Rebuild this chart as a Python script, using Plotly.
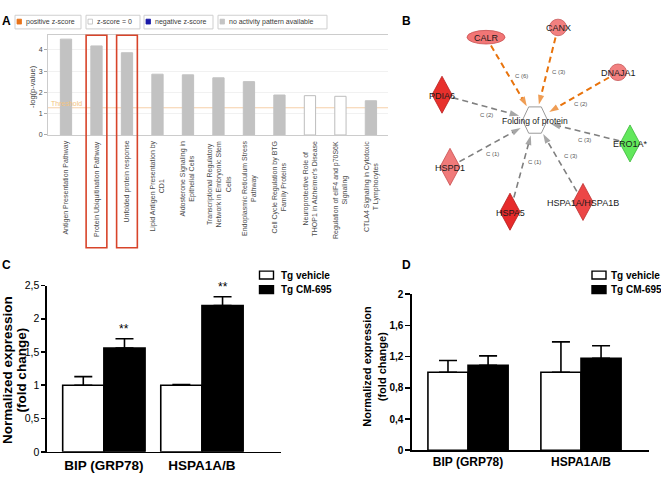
import numpy as np
import plotly.graph_objects as go

W, H = 661, 478
FONT = "Arial, Liberation Sans, sans-serif"

# ---------------- Panel A data ----------------
pathways = [
    "Antigen Presentation Pathway",
    "Protein Ubiquitination Pathway",
    "Unfolded protein response",
    "Lipid Antigen Presentation by<br>CD1",
    "Aldosterone Signaling in<br>Epithelial Cells",
    "Transcriptional Regulatory<br>Network in Embryonic Stem<br>Cells",
    "Endoplasmic Reticulum Stress<br>Pathway",
    "Cell Cycle Regulation by BTG<br>Family Proteins",
    "Neuroprotective Role of<br>THOP1 in Alzheimer's Disease",
    "Regulation of eIF4 and p70S6K<br>Signaling",
    "CTLA4 Signaling in Cytotoxic<br>T Lymphocytes",
]
neg_log_p = [4.51, 4.19, 3.87, 2.86, 2.83, 2.69, 2.51, 1.88, 1.85, 1.82, 1.61]
pattern = ["none"] * 8 + ["zero", "zero"] + ["none"]
threshold = 1.28
highlighted = [1, 2]
a_ticks = [0, 1, 2, 3, 4]
legend_a = ["positive z-score", "z-score = 0", "negative z-score", "no activity pattern available"]
legend_a_colors = ["#e8731a", "#ffffff", "#1a1aa8", "#c4c4c4"]

# ---------------- Panel B data ----------------
hub_name = "Folding of protein"
hub_x, hub_y = 535, 117
nodes = ["CALR", "CANX", "DNAJA1", "PDIA6", "ERO1A*", "HSPD1", "HSPA5", "HSPA1A/HSPA1B"]
node_x = [486, 558, 618, 442, 630, 450, 510, 583]
node_y = [32, 22, 68, 91, 141, 165, 211, 201]
node_shape = ["ellipse", "circle", "circle", "diamond", "diamond", "diamond", "diamond", "diamond"]
node_color = ["#f27676", "#f28080", "#f28080", "#e8302c", "#62e85c", "#f07a7a", "#e62a2a", "#ec4646"]
node_line = ["#c85050", "#c85a5a", "#c85a5a", "#b82020", "#3cb83a", "#c85050", "#b41c1c", "#bc3030"]
edge_label = ["C (6)", "C (3)", "C (2)", "C (2)", "C (3)", "C (1)", "C (1)", "C (3)"]
edge_kind = ["orange", "orange", "orange", "gray", "gray", "gray", "gray", "gray"]
edge_label_x = [521, 558, 580, 486, 584, 492, 534, 570]
edge_label_y = [72, 68, 101, 112, 137, 152, 160, 154]

# ---------------- Panel C / D data ----------------
genes = ["BIP (GRP78)", "HSPA1A/B"]
groups = ["Tg vehicle", "Tg CM-695"]
c_vehicle = [1.0, 1.0]
c_vehicle_err = [0.13, 0.01]
c_cm = [1.56, 2.20]
c_cm_err = [0.14, 0.13]
c_sig = ["**", "**"]
c_ticks = [0, 0.5, 1, 1.5, 2, 2.5]
c_ticktext = ["0", "0,5", "1", "1,5", "2", "2,5"]

d_vehicle = [1.0, 1.0]
d_vehicle_err = [0.15, 0.39]
d_cm = [1.09, 1.18]
d_cm_err = [0.12, 0.16]
d_ticks = [0, 0.4, 0.8, 1.2, 1.6, 2]
d_ticktext = ["0", "0,4", "0,8", "1,2", "1,6", "2"]


def px(x):
    return x / W


def py(y):
    return 1 - y / H


fig = go.Figure()
shapes = []
ann = []

# ================= Panel A =================
bar_fill = ["#c2c2c2" if p == "none" else "#ffffff" for p in pattern]
bar_edge = ["#c2c2c2" if p == "none" else "#bdbdbd" for p in pattern]
fig.add_trace(go.Bar(
    x=list(range(len(pathways))), y=neg_log_p, width=0.37,
    marker=dict(color=bar_fill, line=dict(color=bar_edge, width=1)),
    xaxis="x", yaxis="y", hoverinfo="skip", showlegend=False))

shapes.append(dict(type="line", xref="x domain", yref="y", x0=0, x1=1, y0=threshold, y1=threshold,
                   line=dict(color="#f6cfa8", width=1), layer="below"))
ann.append(dict(text="Threshold", xref="paper", yref="y", x=px(49), y=threshold, xanchor="left",
                yanchor="bottom", showarrow=False, font=dict(family=FONT, size=7, color="#f2c27e"), yshift=-1))
for i in highlighted:
    shapes.append(dict(type="rect", xref="x", yref="paper", x0=i - 0.34, x1=i + 0.34,
                       y0=py(248), y1=py(30), line=dict(color="#d8442a", width=1.6)))
for i, name in enumerate(pathways):
    ann.append(dict(text=name, xref="x", yref="paper", x=i, y=py(136), xanchor="center", yanchor="top",
                    textangle=-90, align="center", showarrow=False,
                    font=dict(family=FONT, size=7, color="#4a4a4a")))
ann.append(dict(text="-log(p-value)", xref="paper", yref="paper", x=px(33), y=py(83), textangle=-90,
                xanchor="center", yanchor="middle",
                showarrow=False, font=dict(family=FONT, size=7.5, color="#444")))

# legend boxes of panel A
box_x0 = [15, 86, 144, 218]
box_x1 = [81, 140, 213, 327]
for k, label in enumerate(legend_a):
    shapes.append(dict(type="rect", xref="paper", yref="paper", x0=px(box_x0[k]), x1=px(box_x1[k]),
                       y0=py(23.5), y1=py(9.5), line=dict(color="#cfcfcf", width=1), fillcolor="white"))
    shapes.append(dict(type="rect", xref="paper", yref="paper", x0=px(box_x0[k] + 2), x1=px(box_x0[k] + 6.5),
                       y0=py(18.5), y1=py(13.5), fillcolor=legend_a_colors[k],
                       line=dict(color="#bbbbbb" if k == 1 else legend_a_colors[k], width=0.8)))
    ann.append(dict(text=label, xref="paper", yref="paper", x=px(box_x0[k] + 8.5), y=py(16.3),
                    xanchor="left", yanchor="middle", showarrow=False,
                    font=dict(family=FONT, size=7, color="#3a3a3a")))

# ================= Panel B =================
hx, hy = float(hub_x), float(hub_y)
for k in range(len(nodes)):
    nx, ny = float(node_x[k]), float(node_y[k])
    dx, dy = hx - nx, hy - ny
    L = np.hypot(dx, dy)
    ux, uy = dx / L, dy / L
    if node_shape[k] == "ellipse":
        rx, ry = 19, 7
    elif node_shape[k] == "circle":
        rx, ry = 8.5, 8.5
    else:
        rx, ry = 10, 19
    if node_shape[k] == "diamond":
        rs = 1 / (abs(ux) / rx + abs(uy) / ry)
    else:
        rs = 1 / np.sqrt((ux / rx) ** 2 + (uy / ry) ** 2)
    rs += 2
    re = 16.5
    col = "#e8730c" if edge_kind[k] == "orange" else "#808080"
    fig.add_trace(go.Scatter(
        x=[nx + ux * rs, hx - ux * re], y=[ny + uy * rs, hy - uy * re],
        mode="lines+markers", xaxis="x2", yaxis="y2",
        line=dict(color=col, width=2 if edge_kind[k] == "orange" else 1.6, dash="6px,4px"),
        marker=dict(symbol=["circle", "arrow"], size=[0, 10], color=col, angleref="previous",
                    line=dict(width=0)),
        hoverinfo="skip", showlegend=False))
    ann.append(dict(text=edge_label[k], xref="x2", yref="y2", x=edge_label_x[k], y=edge_label_y[k],
                    xanchor="center", yanchor="middle",
                    showarrow=False, font=dict(family=FONT, size=6, color="#555")))
    if node_shape[k] == "diamond":
        path = (f"M{nx},{ny - ry} L{nx + rx},{ny} L{nx},{ny + ry} L{nx - rx},{ny} Z")
        shapes.append(dict(type="path", xref="x2", yref="y2", path=path, fillcolor=node_color[k],
                           line=dict(color=node_line[k], width=0.8)))
    else:
        shapes.append(dict(type="circle", xref="x2", yref="y2", x0=nx - rx, x1=nx + rx,
                           y0=ny - ry, y1=ny + ry, fillcolor=node_color[k],
                           line=dict(color=node_line[k], width=0.8)))
    ann.append(dict(text=nodes[k], xref="x2", yref="y2", x=nx, y=ny + 1, showarrow=False,
                    xanchor="center", yanchor="middle",
                    font=dict(family=FONT, size=9, color="#1a1a1a")))

hex_path = (f"M{hx - 12.5},{hy} L{hx - 6.3},{hy - 13.5} L{hx + 6.3},{hy - 13.5} "
            f"L{hx + 12.5},{hy} L{hx + 6.3},{hy + 13.5} L{hx - 6.3},{hy + 13.5} Z")
shapes.append(dict(type="path", xref="x2", yref="y2", path=hex_path, fillcolor="white",
                   line=dict(color="#9a9a9a", width=1)))
ann.append(dict(text=hub_name, xref="x2", yref="y2", x=hx, y=hy + 1, showarrow=False,
                xanchor="center", yanchor="middle",
                font=dict(family=FONT, size=8.5, color="#1a1a1a")))


# ================= Panels C and D =================
def bar_panel(xa, ya, veh, veh_err, cm, cm_err, w, capw):
    xs = np.arange(len(genes))
    fig.add_trace(go.Bar(x=xs - w / 2, y=veh, width=w, xaxis=xa, yaxis=ya,
                         marker=dict(color="white", line=dict(color="black", width=1.6)),
                         error_y=dict(type="data", symmetric=False, array=veh_err,
                                      arrayminus=[0] * len(veh), color="black", thickness=1.6,
                                      width=capw),
                         hoverinfo="skip", showlegend=False))
    fig.add_trace(go.Bar(x=xs + w / 2, y=cm, width=w, xaxis=xa, yaxis=ya,
                         marker=dict(color="black", line=dict(color="black", width=1.6)),
                         error_y=dict(type="data", symmetric=False, array=cm_err,
                                      arrayminus=[0] * len(cm), color="black", thickness=1.6,
                                      width=capw),
                         hoverinfo="skip", showlegend=False))


bar_panel("x3", "y3", c_vehicle, c_vehicle_err, c_cm, c_cm_err, 0.42, 9)
bar_panel("x4", "y4", d_vehicle, d_vehicle_err, d_cm, d_cm_err, 0.355, 9)

for i, s in enumerate(c_sig):
    ann.append(dict(text=s, xref="x3", yref="y3", x=i + 0.21, y=c_cm[i] + c_cm_err[i],
                    xanchor="center", yanchor="bottom",
                    showarrow=False, yshift=1, font=dict(family=FONT, size=12, color="black")))


def ytitle(xpix, ypix, size):
    for k, t in enumerate(["Normalized expression", "(fold change)"]):
        ann.append(dict(text="<b>" + t + "</b>", xref="paper", yref="paper", x=px(xpix + 14.5 * k),
                        y=py(ypix), textangle=-90, xanchor="center", yanchor="middle",
                        showarrow=False, font=dict(family=FONT, size=size, color="black")))


ytitle(7.5, 374, 13.5)
ytitle(367, 370, 11)


def legend_cd(bx, tx):
    for k, g in enumerate(groups):
        yc = 276 + 15 * k
        shapes.append(dict(type="rect", xref="paper", yref="paper", x0=px(bx), x1=px(bx + 14),
                           y0=py(yc + 4), y1=py(yc - 4), fillcolor="white" if k == 0 else "black",
                           line=dict(color="black", width=1.4)))
        ann.append(dict(text="<b>" + g + "</b>", xref="paper", yref="paper", x=px(tx), y=py(yc),
                        xanchor="left", yanchor="middle", showarrow=False,
                        font=dict(family=FONT, size=10, color="black")))


legend_cd(259.5, 279)
legend_cd(592, 609)

# panel letters
for letter, xp, yp in [("A", 6, 15), ("B", 406, 15), ("C", 6, 266), ("D", 406, 266)]:
    ann.append(dict(text="<b>" + letter + "</b>", xref="paper", yref="paper", x=px(xp), y=py(yp),
                    xanchor="center", yanchor="middle",
                    showarrow=False, font=dict(family=FONT, size=12, color="black")))

axis_common = dict(showgrid=False, zeroline=False)
fig.update_layout(
    width=W, height=H, margin=dict(l=0, r=0, t=0, b=0),
    paper_bgcolor="white", plot_bgcolor="white", showlegend=False, barmode="overlay",
    xaxis=dict(domain=[px(48), px(388)], range=[-0.59, 10.56], anchor="y", showline=True, mirror=True,
               linecolor="#cccccc", linewidth=1, ticks="", showticklabels=False, **axis_common),
    yaxis=dict(domain=[py(132.3), py(29.3)], range=[0, 4.725], anchor="x", tickvals=a_ticks,
               ticks="outside", ticklen=3, tickcolor="#aaaaaa", showline=True, linecolor="#cccccc",
               tickfont=dict(family=FONT, size=7, color="#444"), showgrid=True, gridcolor="#f1f1f1",
               zeroline=False),
    xaxis2=dict(domain=[px(390), 1], range=[390, 661], anchor="y2", visible=False, **axis_common),
    yaxis2=dict(domain=[py(270), 1], range=[270, 0], anchor="x2", visible=False, **axis_common),
    xaxis3=dict(domain=[px(47), px(281)], range=[-0.58, 1.806], anchor="y3", showline=True,
                linecolor="black", linewidth=1.6, tickvals=[0, 1], ticktext=genes, ticks="",
                tickfont=dict(family=FONT, size=13.5, color="black", weight="bold"), **axis_common),
    yaxis3=dict(domain=[py(457.3), py(286.7)], range=[0, 2.5], anchor="x3", showline=True,
                linecolor="black", linewidth=1.6, tickvals=c_ticks, ticktext=c_ticktext,
                ticks="outside", ticklen=4, tickwidth=1.6, tickcolor="black",
                tickfont=dict(family=FONT, size=10.5, color="black"), **axis_common),
    xaxis4=dict(domain=[px(412), px(649)], range=[-0.496, 1.602], anchor="y4", showline=True,
                linecolor="black", linewidth=1.6, tickvals=[0, 1], ticktext=genes, ticks="",
                tickfont=dict(family=FONT, size=12, color="black", weight="bold"), **axis_common),
    yaxis4=dict(domain=[py(455.7), py(295.7)], range=[0, 2], anchor="x4", showline=True,
                linecolor="black", linewidth=1.6, tickvals=d_ticks, ticktext=d_ticktext,
                ticks="outside", ticklen=5, tickwidth=1.6, tickcolor="black",
                tickfont=dict(family=FONT, size=10, color="black", weight="bold"), **axis_common),
    shapes=shapes, annotations=ann,
)

fig.write_html("out.html", config={"displayModeBar": False, "staticPlot": True},
               post_script="document.body.style.margin='0';document.body.style.padding='0';"
                           "document.body.style.overflow='hidden';")
